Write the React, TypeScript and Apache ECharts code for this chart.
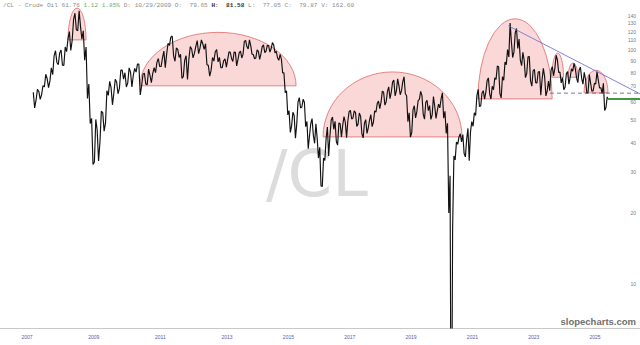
import React, { useEffect, useRef } from "react";
import * as echarts from "echarts";

// ---- data (estimated) ----
const START_YEAR = 2007;
const FIRST_MONTH = 2; // data begins in March 2007 (0-based month index)
// monthly high / low of /CL from Mar 2007 to May 2025
const MONTH_HIGH = [
  66.0, 67.9, 66.5, 70.5, 78.8, 75.5, 83.9, 94.5, 99.3, 97.0,
  100.1, 103.0, 111.8, 120.0, 135.1, 143.7, 147.3, 126.0, 120.9, 103.0, 71.5, 51.0,
  50.5, 45.5, 54.7, 54.0, 67.0, 73.4, 69.0, 75.0, 73.0, 82.0, 82.0, 80.0,
  83.9, 80.5, 83.5, 87.1, 87.0, 79.0, 79.5, 82.9, 78.0, 84.0, 88.6, 92.0,
  92.6, 99.0, 106.9, 113.5, 114.8, 102.0, 100.6, 96.0, 90.5, 94.6, 103.4, 101.0,
  103.7, 109.8, 110.5, 106.4, 106.4, 86.0, 92.9, 98.3, 100.4, 93.0, 89.9, 91.8,
  98.2, 97.8, 97.9, 97.7, 97.5, 99.0, 108.9, 110.0, 110.6, 104.5, 95.7, 100.3,
  98.7, 103.4, 105.2, 104.9, 104.2, 107.7, 105.0, 98.8, 95.9, 91.5, 80.0, 67.0,
  55.0, 54.2, 52.5, 59.9, 62.6, 61.6, 59.8, 49.5, 48.5, 50.9, 48.4, 42.0,
  38.4, 34.5, 41.9, 46.8, 50.2, 51.7, 49.6, 48.8, 48.4, 51.9, 49.2, 54.5,
  55.2, 54.9, 54.0, 53.8, 52.0, 48.6, 50.4, 50.2, 52.9, 54.9, 59.0, 60.5,
  66.7, 66.0, 66.5, 69.6, 72.9, 74.5, 75.3, 70.4, 73.3, 76.9, 63.7, 53.9,
  55.5, 57.8, 60.7, 66.6, 63.8, 59.8, 60.9, 57.9, 63.3, 57.5, 58.7, 61.9,
  65.6, 54.7, 48.6, 29.0, 35.2, 40.4, 42.5, 43.8, 43.5, 41.6, 46.2, 49.4,
  53.9, 63.8, 67.9, 65.5, 67.0, 74.0, 76.0, 70.0, 76.0, 85.4, 84.9, 76.9,
  88.8, 100.5, 130.5, 108.6, 118.7, 123.7, 111.4, 97.7, 90.4, 93.6, 93.7, 81.5,
  82.7, 80.6, 81.0, 83.5, 77.0, 73.7, 82.0, 84.9, 95.0, 90.8, 80.5, 76.2,
  79.3, 80.8, 83.1, 87.7, 83.5, 82.2, 84.5, 80.2, 75.0, 78.5, 72.1, 72.0,
  80.8, 74.3, 69.0, 72.0, 63.0,
];
// April 2020 settled below zero; 1 stands for it (the line runs off the bottom of the log scale)
const MONTH_LOW = [
  56.5, 61.0, 61.5, 64.5, 69.5, 69.0, 73.8, 78.5, 88.5, 86.5,
  86.1, 86.0, 98.5, 99.5, 109.8, 122.0, 121.0, 111.3, 90.5, 62.0, 48.5, 32.4,
  33.2, 33.5, 40.5, 45.0, 48.8, 64.0, 58.3, 65.5, 65.0, 68.5, 75.0, 69.5,
  72.4, 69.5, 78.0, 80.5, 64.2, 70.5, 71.5, 71.0, 72.5, 79.5, 80.0, 85.0,
  85.0, 84.0, 96.0, 104.5, 94.5, 89.5, 93.0, 75.7, 77.0, 74.9, 91.5, 92.5,
  97.0, 96.5, 102.0, 100.7, 86.5, 77.3, 82.0, 89.7, 89.0, 84.0, 84.0, 84.5,
  91.5, 92.0, 89.3, 85.6, 91.0, 92.5, 96.0, 103.5, 101.0, 96.0, 91.8, 92.5,
  91.2, 96.5, 97.4, 99.0, 98.0, 101.5, 97.2, 92.5, 90.4, 79.8, 65.7, 52.8,
  44.4, 47.4, 42.0, 48.0, 56.5, 57.0, 47.0, 37.8, 43.0, 43.2, 39.9, 34.5,
  26.2, 26.1, 33.7, 35.2, 43.0, 45.8, 40.6, 39.2, 42.5, 47.7, 42.2, 49.7,
  50.7, 51.2, 47.1, 48.2, 43.8, 42.1, 44.0, 46.5, 47.0, 49.1, 54.2, 56.1,
  59.9, 58.1, 60.0, 62.0, 66.0, 63.6, 67.0, 64.4, 67.0, 65.0, 49.4, 42.4,
  44.3, 51.2, 54.5, 61.5, 53.1, 50.6, 55.0, 50.5, 52.8, 51.0, 55.0, 56.6,
  51.1, 44.0, 20.1, 1, 17.3, 33.9, 39.5, 40.5, 36.1, 34.9, 33.6, 44.7,
  47.2, 52.5, 57.3, 57.6, 61.6, 66.1, 65.0, 61.7, 67.6, 74.9, 65.1, 62.4,
  74.3, 86.6, 93.5, 92.9, 98.2, 101.5, 90.6, 85.7, 76.2, 79.3, 73.6, 70.1,
  72.5, 72.3, 64.1, 74.6, 63.6, 66.8, 67.0, 77.6, 83.5, 80.1, 72.4, 67.7,
  69.3, 71.4, 76.5, 81.2, 76.0, 72.5, 75.7, 71.5, 65.3, 66.0, 66.6, 67.0,
  71.6, 68.8, 65.2, 55.1, 56.8,
];
const LAST_PRICE = 61.76;
const LAST_TIME = 2025.41;

// the reference plots by bar number; bars per calendar year (2007 onward)
const BARS_PER_YEAR = [
  274, 274, 274, 274, 274, 274, // 2007-2012
  252, 252, 252, 252, 252, 252, 252, 252, 252, 252, 252, 252, 252, 252, // 2013-2026
];
const X_MIN_BAR = -222;
const X_MAX_BAR = 5037;

// rounded-top patterns (start year, end year, base price, top price)
const ARC_START = [2008.23, 2010.39, 2016.13, 2021.18, 2023.59, 2024.12, 2024.64];
const ARC_END = [2008.77, 2015.25, 2020.66, 2023.6, 2023.97, 2024.44, 2025.42];
const ARC_BASE = [110.5, 70.3, 42.5, 61.8, 76.5, 76.5, 65.6];
const ARC_TOP = [151, 119, 80.6, 136, 97, 88, 82];

// lines
const TREND_T = [2022.17, 2026.5];
const TREND_V = [127, 64.6];
const SUPPORT_T = [2023.53, 2026.5];
const SUPPORT_V = [65.4, 65.4];
const LAST_T = [2025.41, 2026.5];
const LAST_V = [LAST_PRICE, LAST_PRICE];

// axes
const YEAR_TICKS = [2007, 2009, 2011, 2013, 2015, 2017, 2019, 2021, 2023, 2025];
const PRICE_TICKS = [10, 20, 30, 40, 50, 60, 70, 80, 90, 100, 110, 120, 130, 140];
const Y_MIN = 6.47;
const Y_MAX = 163.7;

function bar(t: number): number {
  let acc = 0;
  let y = START_YEAR;
  let i = 0;
  while (y + 1 <= t && i < BARS_PER_YEAR.length - 1) {
    acc += BARS_PER_YEAR[i];
    y += 1;
    i += 1;
  }
  return acc + (t - y) * BARS_PER_YEAR[i];
}

function buildPrice(): [number, number][] {
  const out: [number, number][] = [];
  let prev = MONTH_HIGH[0];
  for (let i = 0; i < MONTH_HIGH.length; i++) {
    const h = MONTH_HIGH[i];
    const l = MONTH_LOW[i];
    const m = FIRST_MONTH + i;
    const t0 = START_YEAR + (m + 0.25) / 12;
    const t1 = START_YEAR + (m + 0.75) / 12;
    if (Math.abs(prev - l) < Math.abs(prev - h)) {
      out.push([bar(t0), l], [bar(t1), h]);
      prev = h;
    } else {
      out.push([bar(t0), h], [bar(t1), l]);
      prev = l;
    }
  }
  out.push([bar(LAST_TIME), LAST_PRICE]);
  return out;
}

export default function App() {
  const ref = useRef<HTMLDivElement>(null);
  useEffect(() => {
    if (!ref.current) return;
    const chart = echarts.init(ref.current, null, { renderer: "svg" });
    const arcData = ARC_START.map((s, i) => [bar(s), bar(ARC_END[i]), ARC_BASE[i], ARC_TOP[i]]);
    const yearBars = YEAR_TICKS.map((y) => bar(y));
    const mono = "'Liberation Mono', 'DejaVu Sans Mono', monospace";
    chart.setOption({
      animation: false,
      backgroundColor: "#ffffff",
      grid: { left: 0, right: 0, top: 0, bottom: 17, containLabel: false, outerBoundsMode: "none" },
      xAxis: {
        type: "value",
        min: X_MIN_BAR,
        max: X_MAX_BAR,
        axisLine: { show: true, lineStyle: { color: "#c8c8c8", width: 1 } },
        axisTick: { show: false },
        splitLine: { show: false },
        axisLabel: {
          customValues: yearBars,
          formatter: (v: number) => {
            let best = 0;
            yearBars.forEach((b, i) => {
              if (Math.abs(b - v) < Math.abs(yearBars[best] - v)) best = i;
            });
            return String(YEAR_TICKS[best]);
          },
          fontSize: 5,
          color: "#5a5aa8",
          margin: 6,
          fontFamily: "Arial, 'Liberation Sans', sans-serif",
        },
      },
      yAxis: [
        {
          type: "log",
          logBase: 10,
          min: Y_MIN,
          max: Y_MAX,
          axisLabel: { show: false },
          axisLine: { show: false },
          axisTick: { show: false },
          splitLine: { show: false },
        },
        {
          type: "value",
          position: "right",
          min: Math.log10(Y_MIN),
          max: Math.log10(Y_MAX),
          axisLine: { show: false },
          axisTick: { show: false },
          splitLine: { show: false },
          axisLabel: {
            inside: true,
            customValues: PRICE_TICKS.map((p) => Math.log10(p)),
            formatter: (v: number) => String(Math.round(Math.pow(10, v))),
            fontSize: 5,
            color: "#7a7a8a",
            margin: 4,
            fontFamily: "Arial, 'Liberation Sans', sans-serif",
          },
        },
      ],
      graphic: [
        {
          type: "text",
          left: 266,
          top: 142,
          z: 0,
          silent: true,
          style: {
            text: "/CL",
            fontSize: 64,
            fontFamily: "'DejaVu Sans', sans-serif",
            fill: "#dcdcdc",
          },
        },
        {
          type: "text",
          right: 4,
          top: 316,
          style: {
            text: "slopecharts.com",
            fontSize: 9.5,
            fontWeight: "bold",
            fontFamily: "Arial, 'Liberation Sans', sans-serif",
            fill: "#6f6f6f",
          },
        },
        {
          type: "text",
          left: 3,
          top: 2,
          style: {
            text:
              "{g|/CL - Crude Oil 61.76 }{up|1.12 1.85%}{g| D: 10/29/2009 O:  79.65 }{b|H:}{g|  }{b|81.58}{g| L:  77.05 C:  79.87 V: 162.60}",
            rich: {
              g: { fontSize: 6.1, fontFamily: mono, fill: "#8c8c8c" },
              up: { fontSize: 6.1, fontFamily: mono, fill: "#6fae6f" },
              b: { fontSize: 6.1, fontFamily: mono, fill: "#333333", fontWeight: "bold" },
            },
          },
        },
      ],
      series: [
        {
          type: "custom",
          z: 1,
          silent: true,
          xAxisIndex: 0,
          yAxisIndex: 0,
          data: arcData,
          renderItem: (params: any, api: any) => {
            const x0 = api.value(0);
            const x1 = api.value(1);
            const b = api.value(2);
            const tp = api.value(3);
            const p0 = api.coord([x0, b]);
            const p1 = api.coord([x1, b]);
            const pt = api.coord([(x0 + x1) / 2, tp]);
            const rx = (p1[0] - p0[0]) / 2;
            const ry = p0[1] - pt[1];
            return {
              type: "path",
              shape: {
                pathData: `M${p0[0]} ${p0[1]} A${rx} ${ry} 0 0 1 ${p1[0]} ${p1[1]} Z`,
              },
              style: { fill: "rgba(248, 190, 190, 0.6)", stroke: "#e06868", lineWidth: 0.8 },
            };
          },
        },
        {
          type: "line",
          z: 3,
          xAxisIndex: 0,
          yAxisIndex: 0,
          data: buildPrice(),
          symbol: "none",
          lineStyle: { color: "#111111", width: 1.15 },
          silent: true,
        },
        {
          type: "line",
          z: 4,
          data: TREND_T.map((t, i) => [bar(t), TREND_V[i]]),
          symbol: "none",
          lineStyle: { color: "#7474d8", width: 0.9 },
          silent: true,
        },
        {
          type: "line",
          z: 4,
          data: SUPPORT_T.map((t, i) => [bar(t), SUPPORT_V[i]]),
          symbol: "none",
          lineStyle: { color: "#55557a", width: 0.8, type: [4, 3] },
          silent: true,
        },
        {
          type: "line",
          z: 4,
          data: LAST_T.map((t, i) => [bar(t), LAST_V[i]]),
          symbol: "none",
          lineStyle: { color: "#3f9a3f", width: 2 },
          silent: true,
        },
      ],
    });
    return () => chart.dispose();
  }, []);
  return (
    <div
      ref={ref}
      style={{ position: "fixed", left: 0, top: 0, width: 640, height: 345, background: "#fff" }}
    />
  );
}
